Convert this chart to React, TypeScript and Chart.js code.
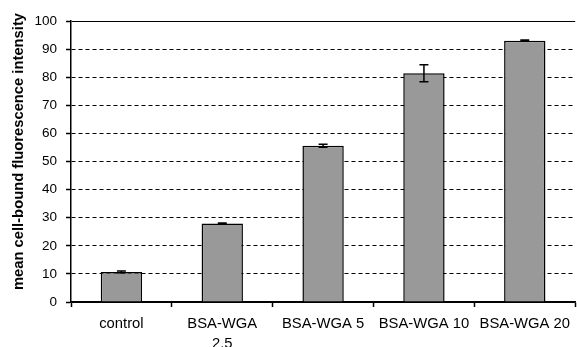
import React, { useEffect, useRef } from "react";
import { Chart, registerables } from "chart.js";

Chart.register(...registerables);

const categories: (string | string[])[] = ["control", ["BSA-WGA", "2.5"], "BSA-WGA 5", "BSA-WGA 10", "BSA-WGA 20"];
const meanValues = [10.7, 27.9, 55.6, 81.4, 93.0];
const errorValues = [0.3, 0.2, 0.5, 3.0, 0.2];
const yTicks = [0, 10, 20, 30, 40, 50, 60, 70, 80, 90, 100];
const yTitle = "mean cell-bound fluorescence intensity";

const FAMILY = "'Liberation Sans', Arial, sans-serif";

const errorBarPlugin = {
  id: "errorBars",
  afterDatasetsDraw(chart: any) {
    const meta = chart.getDatasetMeta(0);
    const yScale = chart.scales.y;
    const ctx = chart.ctx;
    ctx.save();
    ctx.strokeStyle = "#000";
    ctx.lineWidth = 1.5;
    meta.data.forEach((el: any, i: number) => {
      const v = meanValues[i];
      const e = errorValues[i];
      const yTop = yScale.getPixelForValue(v + e);
      const yBot = yScale.getPixelForValue(v - e);
      const x = el.x;
      const cap = 4.5;
      ctx.beginPath();
      ctx.moveTo(x, yTop);
      ctx.lineTo(x, yBot);
      ctx.moveTo(x - cap, yTop);
      ctx.lineTo(x + cap, yTop);
      ctx.moveTo(x - cap, yBot);
      ctx.lineTo(x + cap, yBot);
      ctx.stroke();
    });
    ctx.restore();
  },
};

const yTitlePlugin = {
  id: "yTitle",
  afterDraw(chart: any) {
    const area = chart.chartArea;
    const ctx = chart.ctx;
    ctx.save();
    ctx.translate(19, (area.top + area.bottom) / 2 - 10);
    ctx.rotate(-Math.PI / 2);
    ctx.fillStyle = "#000";
    ctx.font = `bold 14.75px ${FAMILY}`;
    ctx.textAlign = "center";
    ctx.textBaseline = "middle";
    ctx.fillText(yTitle, 0, 0);
    ctx.restore();
  },
};

export default function App() {
  const canvasRef = useRef<HTMLCanvasElement | null>(null);

  useEffect(() => {
    document.body.style.margin = "0";
    const canvas = canvasRef.current;
    if (!canvas) return;
    const chart = new Chart(canvas, {
      type: "bar",
      data: {
        labels: categories,
        datasets: [
          {
            data: meanValues,
            backgroundColor: "#999999",
            borderColor: "#000000",
            borderWidth: 1.5,
            barPercentage: 0.41,
            categoryPercentage: 1,
          },
        ],
      },
      options: {
        animation: false,
        responsive: true,
        maintainAspectRatio: false,
        layout: { padding: { top: 21, left: 0, right: 0, bottom: 0 } },
        plugins: {
          legend: { display: false },
          tooltip: { enabled: false },
        },
        scales: {
          x: {
            offset: true,
            afterFit(scale: any) {
              scale.height = 45;
            },
            grid: {
              offset: true,
              drawOnChartArea: false,
              drawTicks: true,
              tickLength: 5,
              tickColor: "#000",
              tickWidth: 1.5,
            },
            border: { display: true, color: "#000", width: 1.5 },
            ticks: {
              color: "#000",
              font: { family: FAMILY, size: 14.8, lineHeight: 1.35 },
              padding: 7,
              maxRotation: 0,
              autoSkip: false,
            },
          },
          y: {
            min: 0,
            max: 100,
            afterFit(scale: any) {
              scale.width = 71;
            },
            afterBuildTicks(scale: any) {
              scale.ticks = yTicks.map((v) => ({ value: v }));
            },
            grid: {
              color: "#000",
              lineWidth: 1,
              drawTicks: true,
              tickLength: 5,
              tickColor: "#000",
              tickWidth: 1.5,
            },
            border: {
              display: true,
              color: "#000",
              width: 1.5,
              dash: (ctx: any) =>
                ctx.tick && ctx.tick.value !== 100 && ctx.tick.value !== 0 ? [4, 3] : [],
            },
            ticks: {
              color: "#000",
              font: { family: FAMILY, size: 13.5 },
              padding: 9,
            },
          },
        },
      },
      plugins: [errorBarPlugin, yTitlePlugin],
    });
    return () => chart.destroy();
  }, []);

  return (
    <div style={{ width: "577px", height: "347px", position: "relative" }}>
      <canvas ref={canvasRef} />
    </div>
  );
}
